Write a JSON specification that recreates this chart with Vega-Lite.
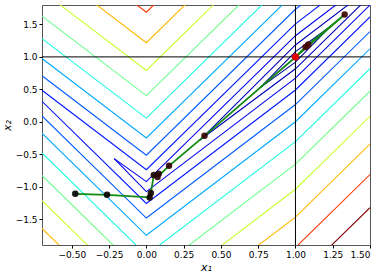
{
  "$schema": "https://vega.github.io/schema/vega-lite/v6.json",
  "width": 328,
  "height": 240,
  "autosize": {"type": "none"},
  "padding": {"left": 42, "top": 5, "right": 14, "bottom": 28},
  "config": {
    "view": {"stroke": "#555", "strokeWidth": 1},
    "axis": {
      "labelFont": "DejaVu Sans", "labelFontSize": 9, "labelColor": "#000",
      "tickColor": "#000", "tickSize": 3, "domain": false, "grid": false,
      "titleFont": "DejaVu Sans", "titleFontSize": 11, "titleFontWeight": "normal",
      "titleFontStyle": "italic", "titleColor": "#000", "labelPadding": 2
    }
  },
  "datasets": {
    "contours": [
      {"k": 2, "id": "k2u", "i": 0, "x1": 0.7635, "x2": 0.527},
      {"k": 2, "id": "k2u", "i": 1, "x1": 1, "x2": 1.0816},
      {"k": 2, "id": "k2u", "i": 2, "x1": 1.2365, "x2": 1.473},
      {"k": 2, "id": "k2l", "i": 0, "x1": 0.7635, "x2": 0.527},
      {"k": 2, "id": "k2l", "i": 1, "x1": 1, "x2": 0.9184},
      {"k": 2, "id": "k2l", "i": 2, "x1": 1.2365, "x2": 1.473},
      {"k": 3, "id": "k3u", "i": 0, "x1": 0.3553, "x2": -0.2894},
      {"k": 3, "id": "k3u", "i": 1, "x1": 1, "x2": 1.1837},
      {"k": 3, "id": "k3u", "i": 2, "x1": 1.5, "x2": 2.0587},
      {"k": 3, "id": "k3l", "i": 0, "x1": 0.3553, "x2": -0.2894},
      {"k": 3, "id": "k3l", "i": 1, "x1": 1, "x2": 0.8163},
      {"k": 3, "id": "k3l", "i": 2, "x1": 1.5, "x2": 1.9413},
      {"k": 4, "id": "k4u", "i": 0, "x1": -0.2161, "x2": -0.5678},
      {"k": 4, "id": "k4u", "i": 1, "x1": 0, "x2": -0.9235},
      {"k": 4, "id": "k4u", "i": 2, "x1": 1, "x2": 1.3265},
      {"k": 4, "id": "k4u", "i": 3, "x1": 1.5, "x2": 2.2015},
      {"k": 4, "id": "k4l", "i": 0, "x1": -0.2161, "x2": -0.5678},
      {"k": 4, "id": "k4l", "i": 1, "x1": 0, "x2": -1.0765},
      {"k": 4, "id": "k4l", "i": 2, "x1": 1, "x2": 0.6735},
      {"k": 4, "id": "k4l", "i": 3, "x1": 1.5, "x2": 1.7985},
      {"k": 5, "id": "k5u", "i": 0, "x1": -0.7, "x2": 0.4852},
      {"k": 5, "id": "k5u", "i": 1, "x1": 0, "x2": -0.7398},
      {"k": 5, "id": "k5u", "i": 2, "x1": 1, "x2": 1.5102},
      {"k": 5, "id": "k5u", "i": 3, "x1": 1.5, "x2": 2.3852},
      {"k": 5, "id": "k5l", "i": 0, "x1": -0.7, "x2": 0.3148},
      {"k": 5, "id": "k5l", "i": 1, "x1": 0, "x2": -1.2602},
      {"k": 5, "id": "k5l", "i": 2, "x1": 1, "x2": 0.4898},
      {"k": 5, "id": "k5l", "i": 3, "x1": 1.5, "x2": 1.6148},
      {"k": 6, "id": "k6u", "i": 0, "x1": -0.7, "x2": 0.7097},
      {"k": 6, "id": "k6u", "i": 1, "x1": 0, "x2": -0.5153},
      {"k": 6, "id": "k6u", "i": 2, "x1": 1, "x2": 1.7347},
      {"k": 6, "id": "k6u", "i": 3, "x1": 1.5, "x2": 2.6097},
      {"k": 6, "id": "k6l", "i": 0, "x1": -0.7, "x2": 0.0903},
      {"k": 6, "id": "k6l", "i": 1, "x1": 0, "x2": -1.4847},
      {"k": 6, "id": "k6l", "i": 2, "x1": 1, "x2": 0.2653},
      {"k": 6, "id": "k6l", "i": 3, "x1": 1.5, "x2": 1.3903},
      {"k": 7, "id": "k7u", "i": 0, "x1": -0.7, "x2": 0.975},
      {"k": 7, "id": "k7u", "i": 1, "x1": 0, "x2": -0.25},
      {"k": 7, "id": "k7u", "i": 2, "x1": 1, "x2": 2.0},
      {"k": 7, "id": "k7l", "i": 0, "x1": -0.7, "x2": -0.175},
      {"k": 7, "id": "k7l", "i": 1, "x1": 0, "x2": -1.75},
      {"k": 7, "id": "k7l", "i": 2, "x1": 1, "x2": 0},
      {"k": 7, "id": "k7l", "i": 3, "x1": 1.5, "x2": 1.125},
      {"k": 8, "id": "k8u", "i": 0, "x1": -0.7, "x2": 1.2811},
      {"k": 8, "id": "k8u", "i": 1, "x1": 0, "x2": 0.0561},
      {"k": 8, "id": "k8u", "i": 2, "x1": 1, "x2": 2.3061},
      {"k": 8, "id": "k8l", "i": 0, "x1": -0.7, "x2": -0.4811},
      {"k": 8, "id": "k8l", "i": 1, "x1": 0, "x2": -2.0561},
      {"k": 8, "id": "k8l", "i": 2, "x1": 1, "x2": -0.3061},
      {"k": 8, "id": "k8l", "i": 3, "x1": 1.5, "x2": 0.8189},
      {"k": 9, "id": "k9u", "i": 0, "x1": -0.7, "x2": 1.6281},
      {"k": 9, "id": "k9u", "i": 1, "x1": 0, "x2": 0.4031},
      {"k": 9, "id": "k9u", "i": 2, "x1": 1, "x2": 2.6531},
      {"k": 9, "id": "k9l", "i": 0, "x1": -0.7, "x2": -0.8281},
      {"k": 9, "id": "k9l", "i": 1, "x1": 0, "x2": -2.4031},
      {"k": 9, "id": "k9l", "i": 2, "x1": 1, "x2": -0.6531},
      {"k": 9, "id": "k9l", "i": 3, "x1": 1.5, "x2": 0.4719},
      {"k": 10, "id": "k10u", "i": 0, "x1": -0.7, "x2": 2.0158},
      {"k": 10, "id": "k10u", "i": 1, "x1": 0, "x2": 0.7908},
      {"k": 10, "id": "k10u", "i": 2, "x1": 1, "x2": 3.0408},
      {"k": 10, "id": "k10l", "i": 0, "x1": -0.7, "x2": -1.2158},
      {"k": 10, "id": "k10l", "i": 1, "x1": 0, "x2": -2.7908},
      {"k": 10, "id": "k10l", "i": 2, "x1": 1, "x2": -1.0408},
      {"k": 10, "id": "k10l", "i": 3, "x1": 1.5, "x2": 0.0842},
      {"k": 11, "id": "k11u", "i": 0, "x1": -0.7, "x2": 2.4444},
      {"k": 11, "id": "k11u", "i": 1, "x1": 0, "x2": 1.2194},
      {"k": 11, "id": "k11u", "i": 2, "x1": 1, "x2": 3.4694},
      {"k": 11, "id": "k11l", "i": 0, "x1": -0.7, "x2": -1.6444},
      {"k": 11, "id": "k11l", "i": 1, "x1": 0, "x2": -3.2194},
      {"k": 11, "id": "k11l", "i": 2, "x1": 1, "x2": -1.4694},
      {"k": 11, "id": "k11l", "i": 3, "x1": 1.5, "x2": -0.3444},
      {"k": 12, "id": "k12u", "i": 0, "x1": -0.7, "x2": 2.9138},
      {"k": 12, "id": "k12u", "i": 1, "x1": 0, "x2": 1.6888},
      {"k": 12, "id": "k12u", "i": 2, "x1": 1, "x2": 3.9388},
      {"k": 12, "id": "k12l", "i": 0, "x1": -0.7, "x2": -2.1138},
      {"k": 12, "id": "k12l", "i": 1, "x1": 0, "x2": -3.6888},
      {"k": 12, "id": "k12l", "i": 2, "x1": 1, "x2": -1.9388},
      {"k": 12, "id": "k12l", "i": 3, "x1": 1.5, "x2": -0.8138},
      {"k": 13, "id": "k13l", "i": 0, "x1": -0.7, "x2": -2.624},
      {"k": 13, "id": "k13l", "i": 1, "x1": 0, "x2": -4.199},
      {"k": 13, "id": "k13l", "i": 2, "x1": 1, "x2": -2.449},
      {"k": 13, "id": "k13l", "i": 3, "x1": 1.5, "x2": -1.324}
    ],
    "path": [
      {"step": 0, "x1": -0.477, "x2": -1.111},
      {"step": 1, "x1": -0.264, "x2": -1.126},
      {"step": 2, "x1": 0.022, "x2": -1.166},
      {"step": 3, "x1": 0.03, "x2": -1.1},
      {"step": 4, "x1": 0.05, "x2": -0.82},
      {"step": 5, "x1": 0.083, "x2": -0.8},
      {"step": 6, "x1": 0.075, "x2": -0.85},
      {"step": 7, "x1": 0.152, "x2": -0.68},
      {"step": 8, "x1": 0.39, "x2": -0.217},
      {"step": 9, "x1": 1.33, "x2": 1.653},
      {"step": 10, "x1": 1.086, "x2": 1.19},
      {"step": 11, "x1": 1.068, "x2": 1.154},
      {"step": 12, "x1": 1.0, "x2": 1.0}
    ],
    "ref": [{"x1": 1, "x2": 1}]
  },
  "encoding": {
    "x": {"field": "x1", "type": "quantitative",
      "scale": {"domain": [-0.7, 1.5], "nice": false, "zero": false},
      "axis": {"values": [-0.5, -0.25, 0, 0.25, 0.5, 0.75, 1, 1.25, 1.5], "format": ".2f", "title": "x₁", "titlePadding": 2}},
    "y": {"field": "x2", "type": "quantitative",
      "scale": {"domain": [-1.9, 1.8], "nice": false, "zero": false},
      "axis": {"values": [-1.5, -1, -0.5, 0, 0.5, 1, 1.5], "format": ".1f", "title": "x₂", "titlePadding": 3}}
  },
  "layer": [
    {
      "data": {"name": "contours"},
      "mark": {"type": "line", "clip": true, "strokeWidth": 1.1},
      "encoding": {
        "detail": {"field": "id", "type": "nominal"},
        "order": {"field": "i", "type": "quantitative"},
        "stroke": {"field": "k", "type": "ordinal", "legend": null,
          "scale": {"domain": [2, 3, 4, 5, 6, 7, 8, 9, 10, 11, 12, 13],
            "range": ["#00009b", "#0000bd", "#0000ed", "#0017ff", "#005aff", "#00a8ff", "#18ffdf", "#6aff8c", "#c7ff30", "#ffb700", "#ff3700", "#800000"]}}
      }
    },
    {
      "data": {"name": "ref"},
      "mark": {"type": "rule", "color": "#000", "strokeWidth": 1},
      "encoding": {"y": null}
    },
    {
      "data": {"name": "ref"},
      "mark": {"type": "rule", "color": "#000", "strokeWidth": 1},
      "encoding": {"x": null}
    },
    {
      "data": {"name": "path"},
      "mark": {"type": "line", "color": "#118a11", "strokeWidth": 1.8},
      "encoding": {"order": {"field": "step", "type": "quantitative"}}
    },
    {
      "data": {"name": "path"},
      "mark": {"type": "circle", "size": 42, "opacity": 0.9},
      "encoding": {
        "fill": {"field": "step", "type": "quantitative", "legend": null,
          "scale": {"domain": [0, 12], "range": ["#000000", "#500000"], "interpolate": "rgb"}}
      }
    },
    {
      "data": {"name": "ref"},
      "mark": {"type": "circle", "size": 50, "color": "#e00000", "opacity": 1},
      "encoding": {}
    }
  ]
}
